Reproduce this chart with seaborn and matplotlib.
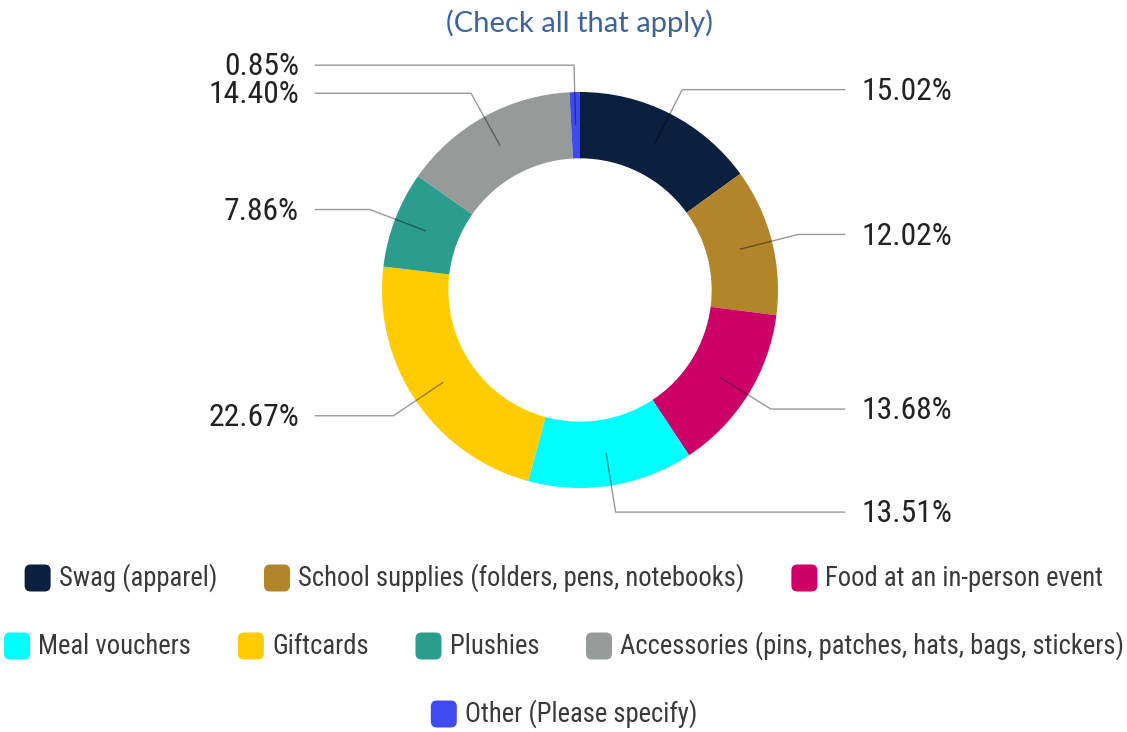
import numpy as np
import matplotlib
matplotlib.use("Agg")
import matplotlib.pyplot as plt
from matplotlib import font_manager
from matplotlib.patches import FancyBboxPatch
from matplotlib.transforms import IdentityTransform
import seaborn as sns

# Survey answers and their shares (%)
categories = [
    "Swag (apparel)",
    "School supplies (folders, pens, notebooks)",
    "Food at an in-person event",
    "Meal vouchers",
    "Giftcards",
    "Plushies",
    "Accessories (pins, patches, hats, bags, stickers)",
    "Other (Please specify)",
]
shares = [15.02, 12.02, 13.68, 13.51, 22.67, 7.86, 14.40, 0.85]
colors = ["#0b1f3f", "#b3852b", "#cc0066", "#00ffff",
          "#ffcc00", "#2a9d8f", "#969a99", "#3f4af0"]
title = "(Check all that apply)"
legend_rows = [3, 4, 1]

sns.set_theme(style="white")

# prefer a condensed sans if one is installed
fonts = font_manager.fontManager.ttflist
names = {f.name for f in fonts}
cond_dejavu = any(f.name == "DejaVu Sans" and str(f.stretch) in ("condensed", "semi-condensed")
                  for f in fonts)
if "Roboto Condensed" in names:
    body = dict(family=["Roboto Condensed", "DejaVu Sans"]); lab_fs, leg_fs = 22.8, 19.2
elif "Liberation Sans Narrow" in names:
    body = dict(family=["Liberation Sans Narrow", "DejaVu Sans"]); lab_fs, leg_fs = 22, 20
elif cond_dejavu:
    body = dict(family=["DejaVu Sans"], stretch="condensed"); lab_fs, leg_fs = 19, 17
else:
    body = dict(family=["Liberation Sans", "DejaVu Sans"]); lab_fs, leg_fs = 19, 16.8
plt.rcParams["font.family"] = body["family"]

W, H = 1127, 732
fig = plt.figure(figsize=(W / 100, H / 100), dpi=100)
ax = fig.add_axes([0, 0, 1, 1])

# donut geometry in pixels -> data units of one outer radius
R_PX = 198.0
CX, CY = 580.0, 290.0

wedges, _ = ax.pie(
    shares, colors=colors, startangle=90, counterclock=False, radius=1.0,
    wedgeprops=dict(width=0.335, edgecolor="none", linewidth=0),
)
ax.set_xlim(-CX / R_PX, (W - CX) / R_PX)
ax.set_ylim(-(H - CY) / R_PX, CY / R_PX)
ax.set_aspect("equal")
ax.axis("off")

# percentage labels with elbow leader lines
r_start, r_elbow = 0.833, 1.136
x_line, x_text = 1.34, 1.42
for w, v in zip(wedges, shares):
    th = np.deg2rad((w.theta1 + w.theta2) / 2)
    c, s = np.cos(th), np.sin(th)
    side = 1 if c >= 0 else -1
    x0, y0 = r_start * c, r_start * s
    x1, y1 = r_elbow * c, r_elbow * s
    ax.plot([x0, x1, side * x_line], [y0, y1, y1], color="black", alpha=0.4,
            lw=1.0, solid_capstyle="butt", zorder=3)
    ax.text(side * x_text, y1 - 0.008, f"{v:.2f}%", ha="left" if side > 0 else "right",
            va="center", fontsize=lab_fs, color="#222222", **body)

fig.text(579 / W, 1 - 23 / H, title, ha="center", va="center",
         fontsize=21, color="#3a64a0", family=["Lato", "DejaVu Sans"])

# legend laid out as centered rows
fig.canvas.draw()
renderer = fig.canvas.get_renderer()
MK_W, MK_H, MK_GAP, ITEM_GAP = 26, 27, 8, 47
row_y = [578, 646, 714]
row_cx = 564
idx = 0
for n, ry in zip(legend_rows, row_y):
    items = list(range(idx, idx + n))
    idx += n
    texts = []
    for i in items:
        t = fig.text(0, 0, categories[i], transform=IdentityTransform(),
                     fontsize=leg_fs, color="#3a3a3a", ha="left", va="center", **body)
        texts.append(t)
    widths = [t.get_window_extent(renderer).width for t in texts]
    total = sum(MK_W + MK_GAP + tw for tw in widths) + ITEM_GAP * (n - 1)
    x = row_cx - total / 2
    yd = H - ry
    for i, t, tw in zip(items, texts, widths):
        fig.add_artist(FancyBboxPatch(
            (x, yd - MK_H / 2), MK_W, MK_H,
            boxstyle="round,pad=0,rounding_size=6",
            transform=IdentityTransform(), facecolor=colors[i],
            edgecolor="none"))
        t.set_position((x + MK_W + MK_GAP, yd))
        x += MK_W + MK_GAP + tw + ITEM_GAP

fig.savefig("out.png", dpi=100)
